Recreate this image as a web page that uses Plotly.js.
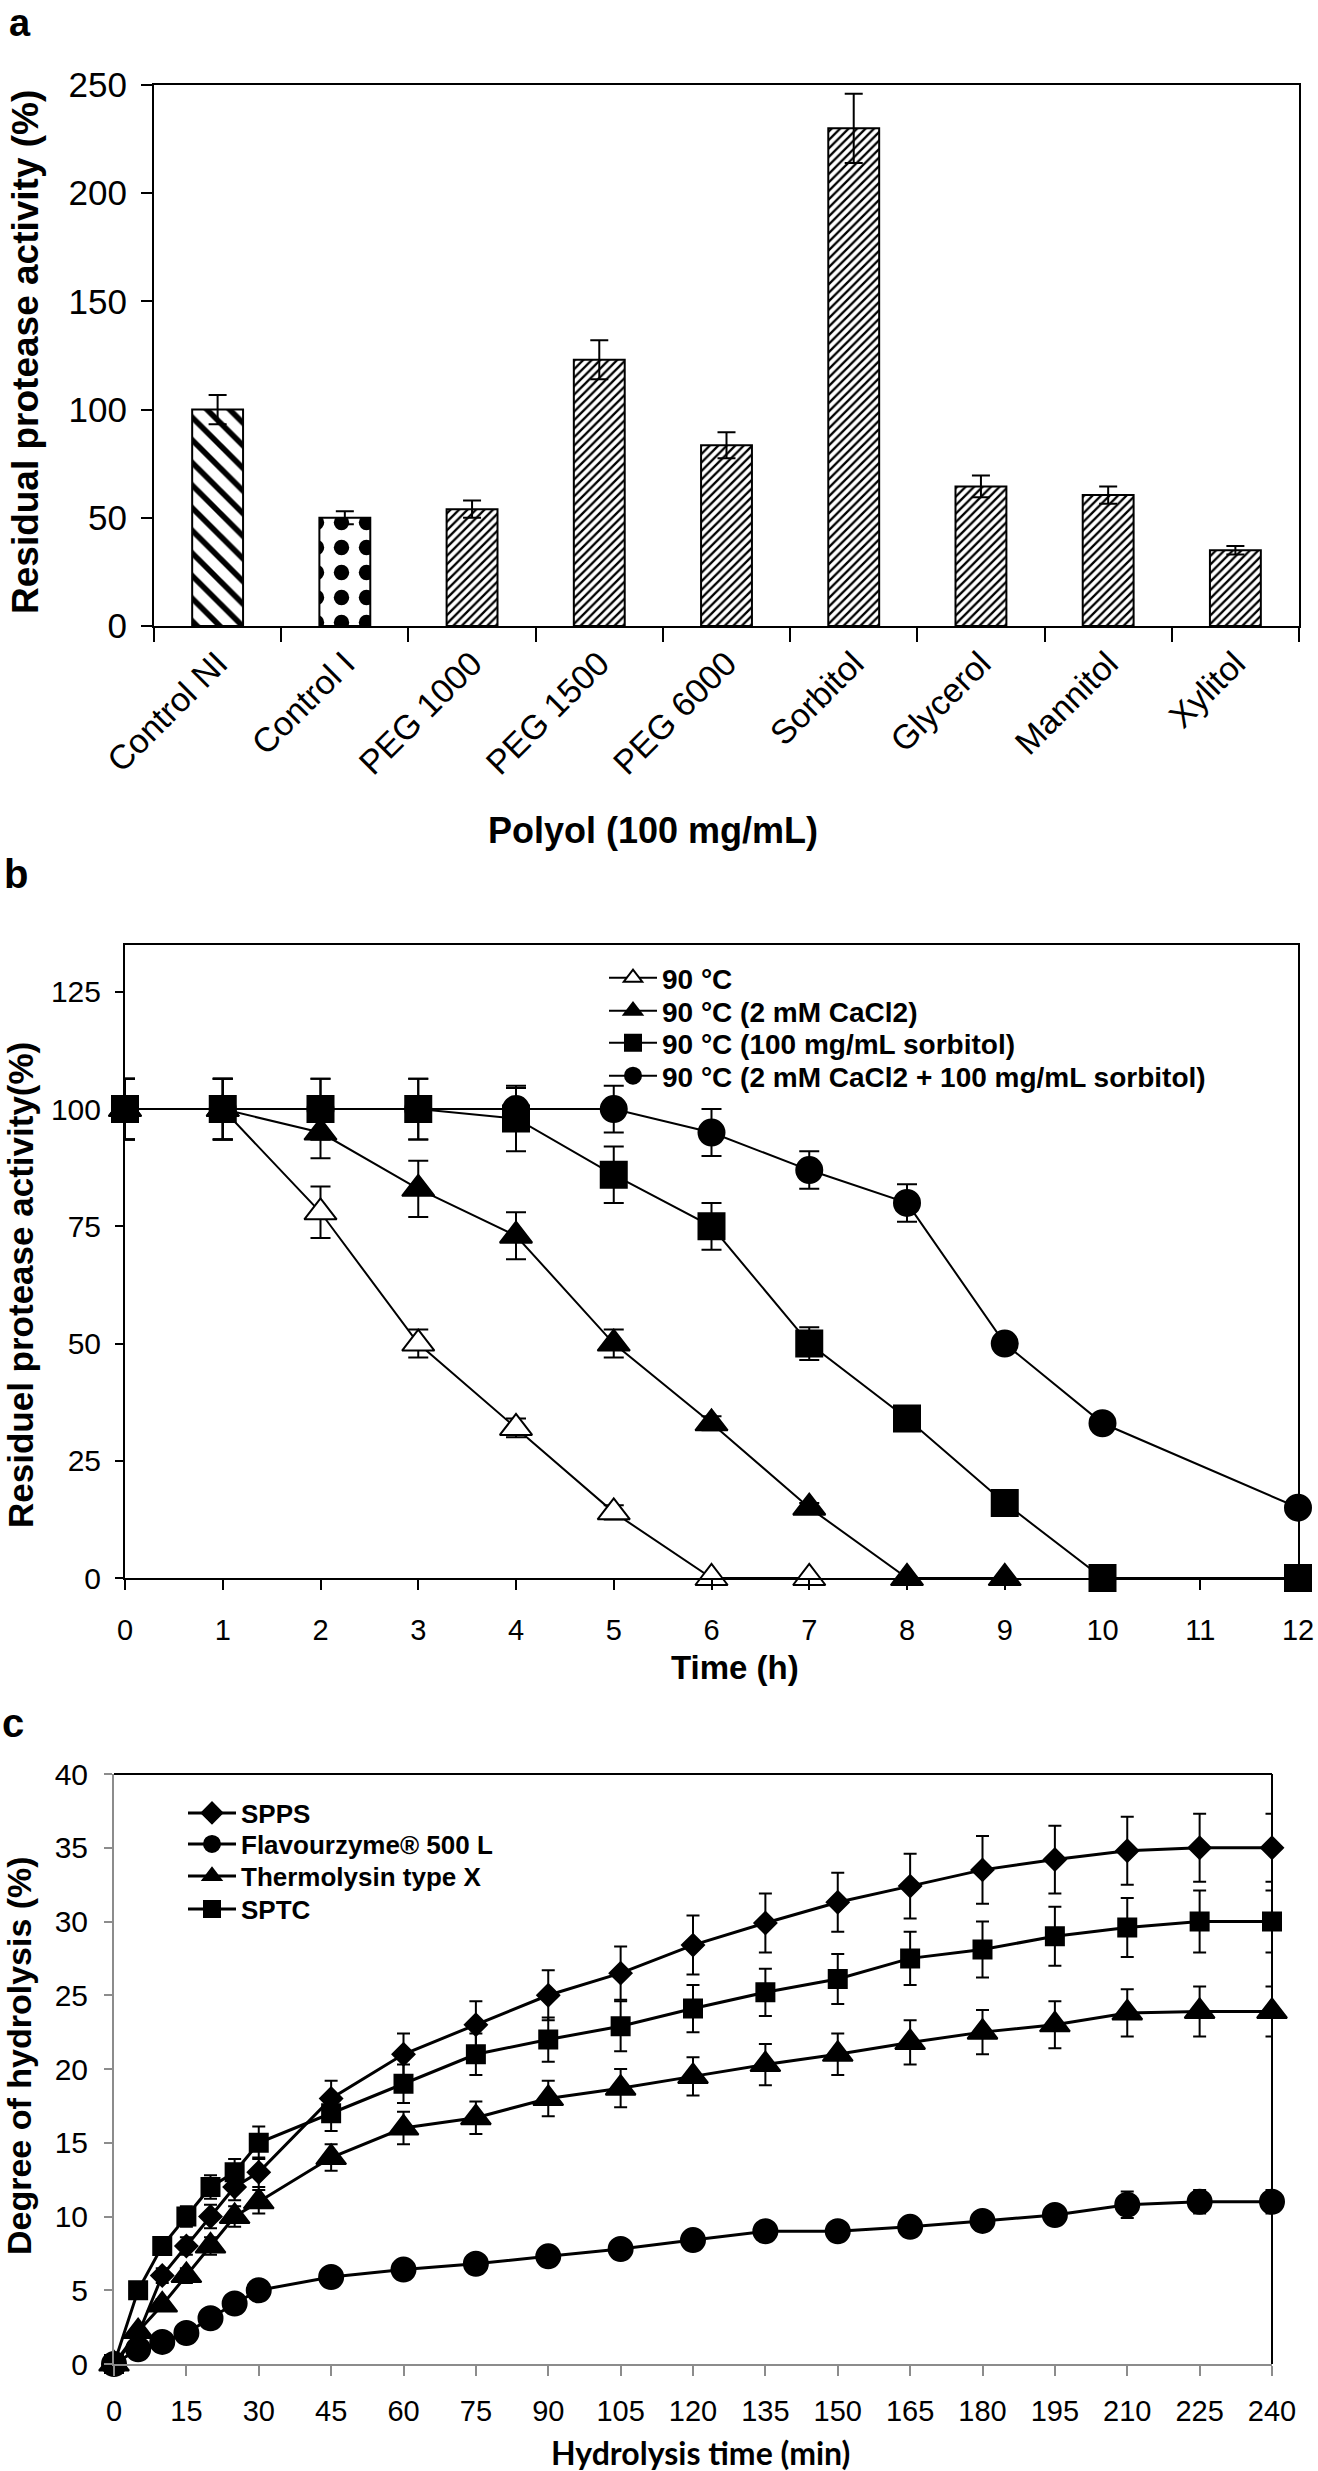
<!DOCTYPE html>
<html>
<head>
<meta charset="utf-8">
<script src="https://cdn.plot.ly/plotly-3.0.1.min.js"></script>
<style>
  html, body { margin: 0; padding: 0; background: #fff; }
  #chart { width: 1318px; height: 2471px; }
</style>
</head>
<body>
<div id="chart"></div>
<script>
// ---------- Panel a data ----------
const polyols = ["Control NI", "Control I", "PEG 1000", "PEG 1500", "PEG 6000", "Sorbitol", "Glycerol", "Mannitol", "Xylitol"];
const activity = [100, 50, 54, 123, 83.5, 230, 64.5, 60.5, 35];
const activityErr = [6.8, 3, 4, 9, 6, 16, 5, 4, 2];

// ---------- Panel b data ----------
const timeOpen = [0, 1, 2, 3, 4, 5, 6, 7];
const act90 = [100, 100, 78, 50, 32, 14, 0, 0];
const err90 = [6.5, 6.5, 5.5, 3, 2, 1.5, 0, 0];

const timeCa = [0, 1, 2, 3, 4, 5, 6, 7, 8, 9];
const act90Ca = [100, 100, 95, 83, 73, 50, 33, 15, 0, 0];
const err90Ca = [6.5, 6.5, 5.5, 6, 5, 3, 1.5, 1, 0, 0];

const timeSorb = [0, 1, 2, 3, 4, 5, 6, 7, 8, 9, 10, 12];
const act90Sorb = [100, 100, 100, 100, 98, 86, 75, 50, 34, 16, 0, 0];
const err90Sorb = [6.5, 6.5, 6.5, 6.5, 7, 6, 5, 3.5, 1, 1, 0, 0];

const timeBoth = [0, 1, 2, 3, 4, 5, 6, 7, 8, 9, 10, 12];
const act90Both = [100, 100, 100, 100, 100, 100, 95, 87, 80, 50, 33, 15];
const err90Both = [6.5, 6.5, 6.5, 6.5, 4.5, 5, 5, 4, 4, 1, 1, 1];

const seriesB = ["90 °C", "90 °C (2 mM CaCl2)", "90 °C (100 mg/mL sorbitol)", "90 °C (2 mM CaCl2 + 100 mg/mL sorbitol)"];

// ---------- Panel c data ----------
const hydTime = [0, 5, 10, 15, 20, 25, 30, 45, 60, 75, 90, 105, 120, 135, 150, 165, 180, 195, 210, 225, 240];
const dhSPPS = [0, 2, 6, 8, 10, 12, 13, 18, 21, 23, 25, 26.5, 28.4, 29.9, 31.3, 32.4, 33.5, 34.2, 34.8, 35, 35];
const errSPPS = [0, 0.3, 0.5, 0.6, 0.8, 0.9, 1.0, 1.2, 1.4, 1.6, 1.7, 1.8, 2.0, 2.0, 2.0, 2.2, 2.3, 2.3, 2.3, 2.3, 2.3];
const dhFlav = [0, 1, 1.5, 2.1, 3.1, 4.1, 5, 5.9, 6.4, 6.8, 7.3, 7.8, 8.4, 9.0, 9.0, 9.3, 9.7, 10.1, 10.8, 11, 11];
const errFlav = [0, 0.2, 0.2, 0.2, 0.3, 0.3, 0.3, 0.3, 0.3, 0.3, 0.3, 0.3, 0.4, 0.4, 0.5, 0.5, 0.5, 0.5, 0.9, 0.8, 0.8];
const dhThermo = [0, 2.2, 4, 6, 8, 10, 11, 14, 16, 16.7, 18, 18.7, 19.5, 20.3, 21, 21.8, 22.5, 23, 23.8, 23.9, 23.9];
const errThermo = [0, 0.3, 0.4, 0.5, 0.6, 0.7, 0.8, 0.9, 1.1, 1.1, 1.2, 1.3, 1.3, 1.4, 1.4, 1.5, 1.5, 1.6, 1.6, 1.7, 1.7];
const dhSPTC = [0, 5, 8, 10, 12, 13, 15, 17, 19, 21, 22, 22.9, 24.1, 25.2, 26.1, 27.5, 28.1, 29, 29.6, 30, 30];
const errSPTC = [0, 0.4, 0.5, 0.7, 0.8, 0.9, 1.1, 1.2, 1.3, 1.4, 1.5, 1.7, 1.6, 1.6, 1.7, 1.8, 1.9, 2.0, 2.0, 2.1, 2.1];

const seriesC = ["SPPS", "Flavourzyme® 500 L", "Thermolysin type X", "SPTC"];

// ---------- styling ----------
const W = 1318, H = 2471;
const px = v => v / W;
const py = v => 1 - v / H;
const FONT = "Liberation Sans, Arial, Helvetica, sans-serif";
const patShapes = ["\\", ".", "/", "/", "/", "/", "/", "/", "/"];
const patSizes = [16, 25, 6, 6, 6, 6, 6, 6, 6];
const patSolid = [0.35, 0.3, 0.38, 0.38, 0.38, 0.38, 0.38, 0.38, 0.38];

const traces = [];

traces.push({
  type: "bar", x: polyols, y: activity, width: 0.4,
  xaxis: "x", yaxis: "y", showlegend: false,
  marker: {
    color: "#fff", line: { color: "#000", width: 2 },
    pattern: { shape: patShapes, size: patSizes, solidity: patSolid, fgcolor: "#000", bgcolor: "#fff", fillmode: "replace" }
  },
  error_y: { type: "data", array: activityErr, visible: true, color: "#000", thickness: 2, width: 9 }
});

function lineTrace(x, y, e, name, symbol, size, fill, ax, lg, lw, ecap) {
  return {
    type: "scatter", mode: "lines+markers", x: x, y: y, name: name,
    xaxis: ax[0], yaxis: ax[1], legend: lg, cliponaxis: false,
    line: { color: "#000", width: lw },
    marker: { symbol: symbol, size: size, color: fill, line: { color: "#000", width: 2 } },
    error_y: { type: "data", array: e, visible: true, color: "#000", thickness: 2, width: ecap }
  };
}

const axB = ["x2", "y2"];
traces.push(lineTrace(timeOpen, act90, err90, seriesB[0], "triangle-up", 28, "#fff", axB, "legend", 2, 10));
traces.push(lineTrace(timeCa, act90Ca, err90Ca, seriesB[1], "triangle-up", 28, "#000", axB, "legend2", 2, 10));
traces.push(lineTrace(timeSorb, act90Sorb, err90Sorb, seriesB[2], "square", 26, "#000", axB, "legend3", 2, 10));
traces.push(lineTrace(timeBoth, act90Both, err90Both, seriesB[3], "circle", 26, "#000", axB, "legend4", 2, 10));

const axC = ["x3", "y3"];
traces.push(lineTrace(hydTime, dhSPPS, errSPPS, seriesC[0], "diamond", 17, "#000", axC, "legend5", 3, 6.5));
traces.push(lineTrace(hydTime, dhFlav, errFlav, seriesC[1], "circle", 24, "#000", axC, "legend6", 3, 6.5));
traces.push(lineTrace(hydTime, dhThermo, errThermo, seriesC[2], "triangle-up", 26, "#000", axC, "legend7", 3, 6.5));
traces.push(lineTrace(hydTime, dhSPTC, errSPTC, seriesC[3], "square", 18, "#000", axC, "legend8", 3, 6.5));

const baseAxis = {
  showgrid: false, zeroline: false, showline: true, linecolor: "#000", linewidth: 2,
  ticks: "outside", tickcolor: "#000", tickwidth: 2, fixedrange: true,
  tickfont: { family: FONT, color: "#000" }
};

function ann(text, x, y, size, opts) {
  return Object.assign({
    text: text, xref: "paper", yref: "paper", x: px(x), y: py(y),
    xanchor: "center", yanchor: "middle", showarrow: false,
    font: { family: FONT, size: size, color: "#000", weight: "bold" }
  }, opts || {});
}

function legendAt(x, y, size) {
  return {
    x: px(x), y: py(y), xanchor: "left", yanchor: "middle",
    bgcolor: "rgba(0,0,0,0)", borderwidth: 0, itemwidth: 48,
    font: { family: FONT, size: size, color: "#000", weight: "bold" }
  };
}

const layout = {
  width: W, height: H,
  margin: { l: 0, r: 0, t: 0, b: 0 },
  paper_bgcolor: "#fff", plot_bgcolor: "#fff",
  font: { family: FONT, color: "#000" },
  xaxis: Object.assign({}, baseAxis, {
    domain: [px(154), px(1299)], anchor: "y", type: "category", mirror: true,
    tickson: "boundaries", ticklen: 14, tickangle: -45, ticklabelstandoff: 2,
    tickfont: { family: FONT, size: 34, color: "#000" }
  }),
  yaxis: Object.assign({}, baseAxis, {
    domain: [py(626), py(85)], anchor: "x", range: [0, 250], dtick: 50, mirror: true,
    ticklen: 11, ticklabelstandoff: 7,
    tickfont: { family: FONT, size: 35, color: "#000" }
  }),
  xaxis2: Object.assign({}, baseAxis, {
    domain: [px(125), px(1298)], anchor: "y2", range: [0, 12], dtick: 1, mirror: true,
    ticklen: 10, ticklabelstandoff: 15,
    tickfont: { family: FONT, size: 29, color: "#000" }
  }),
  yaxis2: Object.assign({}, baseAxis, {
    domain: [py(1578), py(945)], anchor: "x2", range: [0, 135], tickvals: [0, 25, 50, 75, 100, 125], mirror: true,
    ticklen: 8, ticklabelstandoff: 8,
    tickfont: { family: FONT, size: 30, color: "#000" }
  }),
  xaxis3: Object.assign({}, baseAxis, {
    domain: [px(114), px(1272)], anchor: "y3", range: [0, 240], dtick: 15,
    linecolor: "#8c8c8c", tickcolor: "#8c8c8c", ticklen: 10, ticklabelstandoff: 10,
    tickfont: { family: FONT, size: 29, color: "#000" }
  }),
  yaxis3: Object.assign({}, baseAxis, {
    domain: [py(2364), py(1774)], anchor: "x3", range: [0, 40], dtick: 5,
    linecolor: "#8c8c8c", tickcolor: "#8c8c8c", ticklen: 8, ticklabelstandoff: 10,
    tickfont: { family: FONT, size: 30, color: "#000" }
  }),
  legend: legendAt(604, 978, 28),
  legend2: legendAt(604, 1011, 28),
  legend3: legendAt(604, 1043, 28),
  legend4: legendAt(604, 1076, 28),
  legend5: legendAt(183, 1813, 26),
  legend6: legendAt(183, 1844, 26),
  legend7: legendAt(183, 1876, 26),
  legend8: legendAt(183, 1909, 26),
  shapes: [
    { type: "line", xref: "x3 domain", yref: "y3 domain", x0: 0, x1: 1, y0: 1, y1: 1, line: { color: "#000", width: 2 } },
    { type: "line", xref: "x3 domain", yref: "y3 domain", x0: 1, x1: 1, y0: 0, y1: 1, line: { color: "#000", width: 2 } }
  ],
  annotations: [
    ann("a", 20, 0, 38, { yanchor: "top" }),
    ann("Residual protease activity (%)", 26, 352, 37, { textangle: -90 }),
    ann("Polyol (100 mg/mL)", 653, 831, 36),
    ann("b", 16, 874, 40),
    ann("Residuel protease activity(%)", 20, 1285, 35, { textangle: -90 }),
    ann("Time (h)", 735, 1667, 33),
    ann("c", 13, 1723, 40),
    ann("Degree of hydrolysis (%)", 19, 2056, 34, { textangle: -90 }),
    ann("Hydrolysis time (min)", 700, 2452, 32, { font: { family: "Lato, Liberation Sans, sans-serif", size: 32, color: "#000", weight: "bold" } })
  ],
  showlegend: true
};

Plotly.newPlot("chart", traces, layout, { staticPlot: true, displayModeBar: false });
</script>
</body>
</html>
